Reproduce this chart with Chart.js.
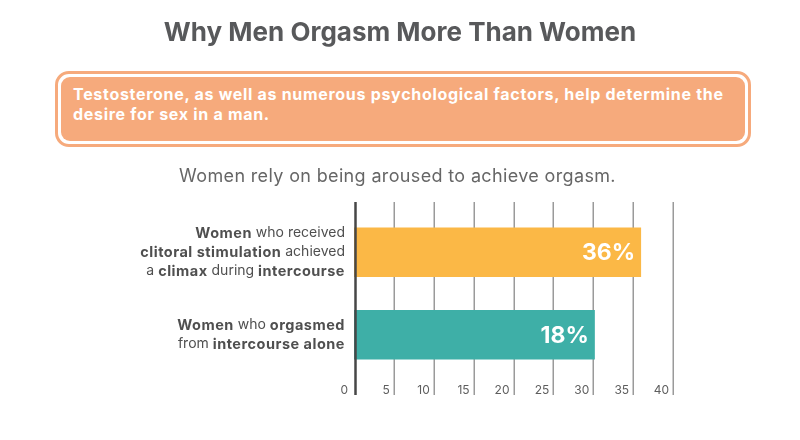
<!DOCTYPE html>
<html>
<head>
<meta charset="utf-8">
<script src="https://cdn.jsdelivr.net/npm/chart.js@4.4.0/dist/chart.umd.min.js"></script>
<style>
  html, body { margin:0; padding:0; background:#fff; }
  #wrap { position:relative; width:800px; height:440px; overflow:hidden; font-family:Inter, "Open Sans", sans-serif; }
  #title { position:absolute; left:0; top:12px; width:800px; text-align:center; font-size:26px; line-height:40px; font-weight:700; color:#58595b; }
  #note { position:absolute; left:55px; top:71px; width:684px; height:64px; border:3px solid #f6aa7c; border-radius:14px; padding:3px; background:#fff; }
  #note div { width:100%; height:100%; box-sizing:border-box; background:#f6aa7c; border-radius:9px; padding:8px 0 0 12px;
              color:#fff; font-size:16px; font-weight:700; line-height:19.5px; letter-spacing:0.7px; white-space:nowrap; }
  #sub { position:absolute; left:0; top:161px; width:795px; text-align:center; font-size:18px; line-height:30px; letter-spacing:0.35px; color:#666; }
  #cnv { position:absolute; left:0; top:0; }
</style>
</head>
<body>
<div id="wrap">
  <canvas id="cnv" width="800" height="440"></canvas>
  <div id="title">Why Men Orgasm More Than Women</div>
  <div id="note"><div>Testosterone, as well as numerous psychological factors, help determine the<br>desire for sex in a man.</div></div>
  <div id="sub">Women rely on being aroused to achieve orgasm.</div>
</div>
<script>
"use strict";

// category labels, **...** marks the bold parts
const categories = [
  ["**Women** who received", "**clitoral stimulation** achieved", "a **climax** during **intercourse**"],
  ["**Women** who **orgasmed**", "from **intercourse alone**"]
];
const barValues = [36, 30.2];          // bar lengths as drawn
const barLabels = ["36%", "18%"];      // labels printed on the bars
const barColors = ["#fbb846", "#3eafa7"];
const xTicks = [0, 5, 10, 15, 20, 25, 30, 35, 40];

const FONT = "Inter, 'Open Sans', sans-serif";

function splitBold(line)
 {
   return line.split("**").map((t, i) => ({ text: t, bold: i % 2 == 1 })).filter(s => s.text.length > 0);
 }

function segFont(ctx, bold)
 {
   ctx.font = bold ? "bold 14.5px " + FONT : "14px " + FONT;
   ctx.letterSpacing = bold ? "0.5px" : "0px";
 }

const infoPlugin = {
  id: "infoPlugin",
  beforeDatasetsDraw(chart)
   {
     const ctx = chart.ctx, x = chart.scales.x, area = chart.chartArea;
     ctx.save();
     ctx.strokeStyle = "#9a9a9a";
     ctx.lineWidth = 1.5;
     xTicks.forEach(v => {
        if (v == 0) return;
        const px = Math.round(x.getPixelForValue(v)) + 0.25;
        ctx.beginPath();
        ctx.moveTo(px, area.top - 9);
        ctx.lineTo(px, area.bottom + 19);
        ctx.stroke();
      });
     ctx.restore();
   },
  afterDatasetsDraw(chart)
   {
     const ctx = chart.ctx, x = chart.scales.x, y = chart.scales.y, area = chart.chartArea;
     ctx.save();

     // axis line at 0
     ctx.strokeStyle = "#474747";
     ctx.lineWidth = 2.5;
     ctx.beginPath();
     ctx.moveTo(x.getPixelForValue(0) + 1.5, area.top - 9);
     ctx.lineTo(x.getPixelForValue(0) + 1.5, area.bottom + 19);
     ctx.stroke();

     // tick labels, to the left of each gridline
     ctx.fillStyle = "#5e5e5e";
     ctx.font = "12px " + FONT;
     ctx.textAlign = "right";
     ctx.textBaseline = "middle";
     xTicks.forEach(v => {
        ctx.fillText(String(v), x.getPixelForValue(v) - (v == 0 ? 6 : 4), area.bottom + 14);
      });

     // value labels inside the bars
     const meta = chart.getDatasetMeta(0);
     ctx.fillStyle = "#fff";
     ctx.font = "bold 23px " + FONT;
     meta.data.forEach((bar, i) => {
        ctx.fillText(barLabels[i], bar.x - 6, bar.y + 1);
      });

     // category labels with mixed weights
     ctx.fillStyle = "#4f4f4f";
     ctx.textAlign = "left";
     const right = area.left - 9;
     categories.forEach((lines, ci) => {
        const cy = y.getPixelForValue(ci);
        lines.forEach((line, li) => {
           const ly = cy + (li - (lines.length - 1) / 2) * 19;
           const segs = splitBold(line);
           let w = 0;
           segs.forEach(s => { segFont(ctx, s.bold); s.w = ctx.measureText(s.text).width; w += s.w; });
           let px = right - w;
           segs.forEach(s => {
              segFont(ctx, s.bold);
              ctx.fillText(s.text, px, ly);
              px += s.w;
            });
         });
      });
     ctx.restore();
   }
};

new Chart(document.getElementById("cnv"), {
   type: "bar",
   data: {
      labels: categories.map(c => c.join(" ").replace(/\*\*/g, "")),
      datasets: [{ data: barValues, backgroundColor: barColors, borderWidth: 0, barPercentage: 0.6, categoryPercentage: 1 }]
   },
   options: {
      indexAxis: "y",
      responsive: false,
      animation: false,
      layout: { padding: { left: 354, right: 127, top: 211, bottom: 64 } },
      plugins: { legend: { display: false }, tooltip: { enabled: false } },
      scales: {
         x: { display: false, min: 0, max: 40 },
         y: { display: false }
      }
   },
   plugins: [infoPlugin]
});
</script>
</body>
</html>
